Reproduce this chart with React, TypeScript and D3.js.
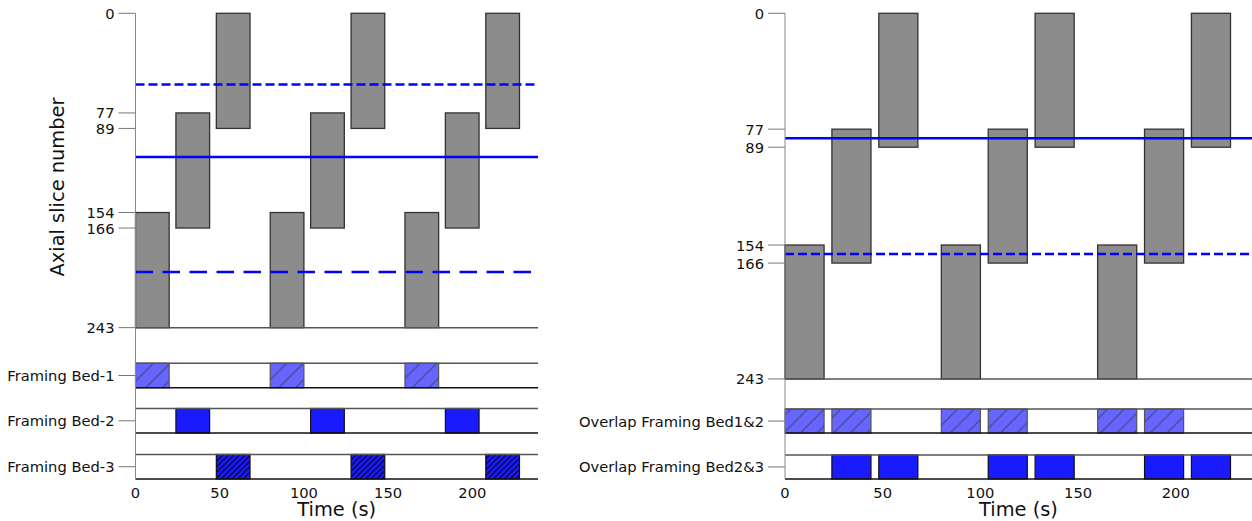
import React from "react";
import * as d3 from "d3";

// ---------- data ----------
const xTicks = [0, 50, 100, 150, 200];
const xMax = 239;
const yTicks = [0, 77, 89, 154, 166, 243];
const sliceMax = 243;

// frame intervals (s) for each bed
const bed1Frames: [number, number][] = [[0, 20], [80, 100], [160, 180]];
const bed2Frames: [number, number][] = [[24, 44], [104, 124], [184, 204]];
const bed3Frames: [number, number][] = [[48, 68], [128, 148], [208, 228]];
// axial slice extents for each bed
const bedSlices: [number, number][] = [[154, 243], [77, 166], [0, 89]];

// horizontal reference lines (slice numbers)
const leftLines = [55, 111, 200];
const rightLines = [83, 160];

// band rows (in the axis' own units, below the slice range)
const leftBandLabels = ["Framing Bed-1", "Framing Bed-2", "Framing Bed-3"];
const leftBands: [number, number][] = [[270.5, 289.5], [305.5, 324.5], [341, 360]];
const leftYMax = 360;
const rightBandLabels = ["Overlap Framing Bed1&2", "Overlap Framing Bed2&3"];
const rightBands: [number, number][] = [[263, 279], [293.5, 309.5]];
const rightYMax = 309.5;

// ---------- styles ----------
const FONT = "DejaVu Sans, sans-serif";
const TICK_FS = 14.7;
const LABEL_FS = 19.4;
const GRAY_FILL = "#8c8c8c";
const LIGHT_BLUE = "#6666ff";
const BLUE = "#1a1aff";
const leftLineDash = ["9,4", null, "17.5,9.5"];
const rightLineDash = [null, "9,4"];

type BandStyle = { fill: string; hatch: string | null; edge: string };
const leftBandStyles: BandStyle[] = [
  { fill: LIGHT_BLUE, hatch: "hatchSparse", edge: "#555" },
  { fill: BLUE, hatch: null, edge: "#111" },
  { fill: BLUE, hatch: "hatchDense", edge: "#111" },
];
const rightBandStyles: BandStyle[] = [
  { fill: LIGHT_BLUE, hatch: "hatchSparse", edge: "#555" },
  { fill: BLUE, hatch: null, edge: "#111" },
];

const allBeds = [bed1Frames, bed2Frames, bed3Frames];

function Panel(props: {
  x0: number;
  x1: number;
  y0: number;
  y1: number;
  yMax: number;
  bands: [number, number][];
  bandLabels: string[];
  bandFrames: [number, number][][];
  bandStyles: BandStyle[];
  lines: number[];
  dashes: (string | null)[];
  yLabel?: string;
}) {
  const { x0, x1, y0, y1, yMax, bands, bandLabels, bandFrames, bandStyles, lines, dashes, yLabel } = props;
  const xs = d3.scaleLinear().domain([0, xMax]).range([x0, x1]);
  const ys = d3.scaleLinear().domain([0, yMax]).range([y0, y1]);
  const tickLen = 17;
  return (
    <g>
      {/* gray bars */}
      {allBeds.map((frames, bi) =>
        frames.map(([t0, t1], i) => (
          <rect
            key={`g${bi}-${i}`}
            x={xs(t0)}
            y={ys(bedSlices[bi][0])}
            width={xs(t1) - xs(t0)}
            height={ys(bedSlices[bi][1]) - ys(bedSlices[bi][0])}
            fill={GRAY_FILL}
            stroke="#333"
            strokeWidth={1.3}
          />
        ))
      )}
      {/* baseline */}
      <line x1={x0} x2={x1} y1={ys(sliceMax)} y2={ys(sliceMax)} stroke="#555" strokeWidth={1.5} />
      {/* blue reference lines */}
      {lines.map((v, i) => (
        <line
          key={`l${i}`}
          x1={x0}
          x2={x1}
          y1={ys(v)}
          y2={ys(v)}
          stroke="#0000ff"
          strokeWidth={2.5}
          strokeDasharray={dashes[i] ?? undefined}
        />
      ))}
      {/* bands */}
      {bands.map(([b0, b1], bi) => (
        <g key={`b${bi}`}>
          {bandFrames[bi].map(([t0, t1], i) => (
            <g key={i}>
              <rect x={xs(t0)} y={ys(b0)} width={xs(t1) - xs(t0)} height={ys(b1) - ys(b0)} fill={bandStyles[bi].fill} />
              {bandStyles[bi].hatch && (
                <rect
                  x={xs(t0)}
                  y={ys(b0)}
                  width={xs(t1) - xs(t0)}
                  height={ys(b1) - ys(b0)}
                  fill={`url(#${bandStyles[bi].hatch})`}
                />
              )}
              <rect
                x={xs(t0)}
                y={ys(b0)}
                width={xs(t1) - xs(t0)}
                height={ys(b1) - ys(b0)}
                fill="none"
                stroke={bandStyles[bi].edge}
                strokeWidth={1.2}
              />
            </g>
          ))}
          <line x1={x0} x2={x1} y1={ys(b0)} y2={ys(b0)} stroke="#555" strokeWidth={1.5} />
          <line x1={x0} x2={x1} y1={ys(b1)} y2={ys(b1)} stroke="#111" strokeWidth={1.5} />
          <line x1={x0 - tickLen} x2={x0} y1={ys((b0 + b1) / 2)} y2={ys((b0 + b1) / 2)} stroke="#777" strokeWidth={1} />
          <text
            x={x0 - tickLen - 4}
            y={ys((b0 + b1) / 2)}
            textAnchor="end"
            dominantBaseline="central"
            fontFamily={FONT}
            fontSize={TICK_FS}
            fill="#111"
          >
            {bandLabels[bi]}
          </text>
        </g>
      ))}
      {/* left spine */}
      <line x1={x0} x2={x0} y1={y0} y2={y1} stroke="#888" strokeWidth={1} />
      {/* y ticks */}
      {yTicks.map((v) => (
        <g key={`yt${v}`}>
          <line x1={x0 - tickLen} x2={x0} y1={ys(v)} y2={ys(v)} stroke="#777" strokeWidth={1} />
          <text
            x={x0 - tickLen - 4}
            y={ys(v)}
            textAnchor="end"
            dominantBaseline="central"
            fontFamily={FONT}
            fontSize={TICK_FS}
            fill="#111"
          >
            {v}
          </text>
        </g>
      ))}
      {/* x ticks */}
      {xTicks.map((v) => (
        <text key={`xt${v}`} x={xs(v)} y={497.5} textAnchor="middle" fontFamily={FONT} fontSize={TICK_FS} fill="#111">
          {v}
        </text>
      ))}
      <text x={(x0 + x1) / 2} y={516} textAnchor="middle" fontFamily={FONT} fontSize={LABEL_FS} fill="#111">
        Time (s)
      </text>
      {yLabel && (
        <text
          transform={`translate(64,187) rotate(-90)`}
          textAnchor="middle"
          fontFamily={FONT}
          fontSize={LABEL_FS}
          fill="#111"
        >
          {yLabel}
        </text>
      )}
    </g>
  );
}

function hatchPath(s: number) {
  return `M0,${s} L${s},0 M-1,1 L1,-1 M${s - 1},${s + 1} L${s + 1},${s - 1}`;
}

export default function App() {
  const overlap12 = [...bed1Frames, ...bed2Frames];
  const overlap23 = [...bed2Frames, ...bed3Frames];
  const sSparse = 100 / 6;
  const sDense = 100 / 18;
  return (
    <svg
      width={1252}
      height={521}
      style={{ position: "absolute", left: 0, top: 0, background: "#fff" }}
    >
      <defs>
        <pattern id="hatchSparse" patternUnits="userSpaceOnUse" width={sSparse} height={sSparse}>
          <path d={hatchPath(sSparse)} stroke="#333" strokeOpacity={0.75} strokeWidth={1} />
        </pattern>
        <pattern id="hatchDense" patternUnits="userSpaceOnUse" width={sDense} height={sDense}>
          <path d={hatchPath(sDense)} stroke="#000" strokeWidth={1} />
        </pattern>
      </defs>
      <rect x={0} y={0} width={1252} height={521} fill="#fff" />
      <Panel
        x0={135.5}
        x1={538}
        y0={13.3}
        y1={479}
        yMax={leftYMax}
        bands={leftBands}
        bandLabels={leftBandLabels}
        bandFrames={[bed1Frames, bed2Frames, bed3Frames]}
        bandStyles={leftBandStyles}
        lines={leftLines}
        dashes={leftLineDash}
        yLabel="Axial slice number"
      />
      <Panel
        x0={785}
        x1={1252}
        y0={13.3}
        y1={479}
        yMax={rightYMax}
        bands={rightBands}
        bandLabels={rightBandLabels}
        bandFrames={[overlap12, overlap23]}
        bandStyles={rightBandStyles}
        lines={rightLines}
        dashes={rightLineDash}
      />
    </svg>
  );
}
